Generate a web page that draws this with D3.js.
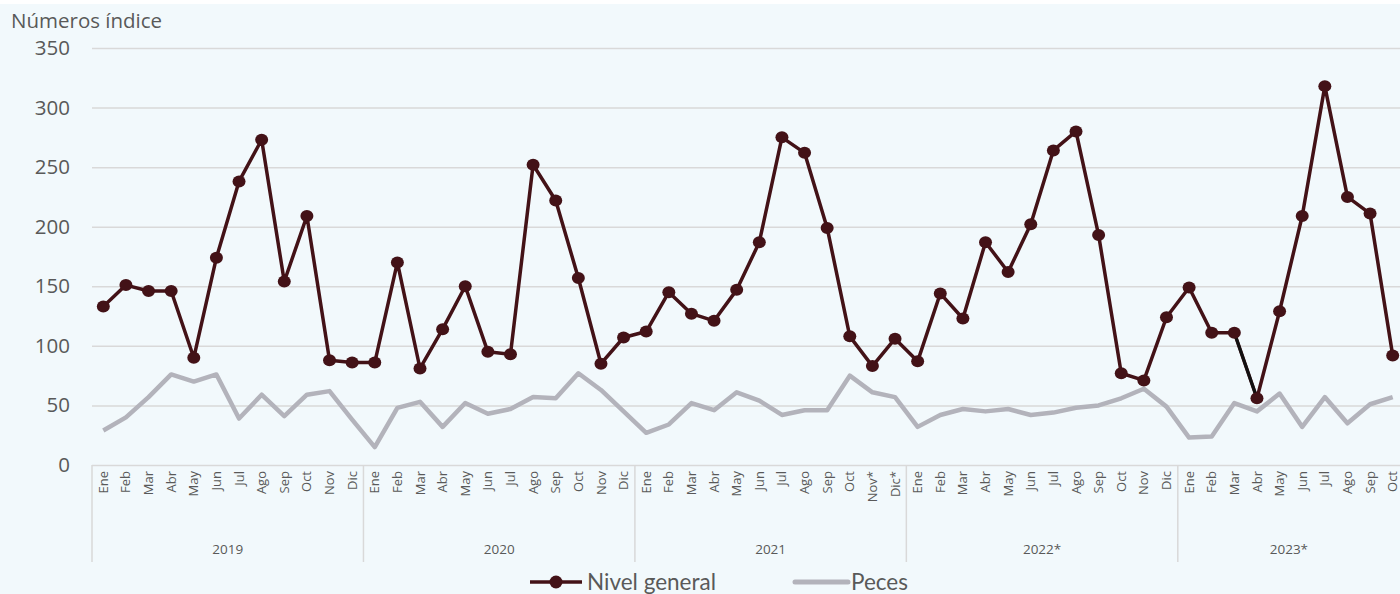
<!DOCTYPE html>
<html>
<head>
<meta charset="utf-8">
<script src="https://cdn.jsdelivr.net/npm/d3@7"></script>
<style>
  body { margin: 0; background: #ffffff; }
  svg { display: block; }
  .tick text { font-family: "Open Sans", sans-serif; }
</style>
</head>
<body>
<svg id="chart" width="1400" height="594"></svg>
<script>
// months shown under each year
const months = ["Ene", "Feb", "Mar", "Abr", "May", "Jun", "Jul", "Ago", "Sep", "Oct", "Nov", "Dic"];
const years = ["2019", "2020", "2021", "2022*", "2023*"];
const monthsPerYear = [12, 12, 12, 12, 10];
// month label overrides (2021 Nov/Dic marked as provisional)
const monthLabelOverrides = { "2021-10": "Nov*", "2021-11": "Dic*" };

const nivelGeneral = [
    133, 151, 146, 146, 90, 174, 238, 273, 154, 209, 88, 86,
    86, 170, 81, 114, 150, 95, 93, 252, 222, 157, 85, 107,
    112, 145, 127, 121, 147, 187, 275, 262, 199, 108, 83, 106,
    87, 144, 123, 187, 162, 202, 264, 280, 193, 77, 71, 124,
    149, 111, 111, 56, 129, 209, 318, 225, 211, 92
];
const peces = [
    29, 40, 57, 76, 70, 76, 39, 59, 41, 59, 62, 38,
    15, 48, 53, 32, 52, 43, 47, 57, 56, 77, 63, 45,
    27, 34, 52, 46, 61, 54, 42, 46, 46, 75, 61, 57,
    32, 42, 47, 45, 47, 42, 44, 48, 50, 56, 64, 49,
    23, 24, 52, 45, 60, 32, 57, 35, 51, 57
];
const yTicks = [0, 50, 100, 150, 200, 250, 300, 350];

// build category keys
const cats = [];
years.forEach((yr, yi) => {
    for (let m = 0; m < monthsPerYear[yi]; m++) {
        const key = yr.replace("*", "") + "-" + m;
        cats.push({ key, year: yr, yi, label: monthLabelOverrides[key] || months[m] });
    }
});

const svg = d3.select("#chart");
const W = 1400, H = 594;

svg.append("rect").attr("x", 0).attr("y", 4).attr("width", W).attr("height", H - 4).attr("fill", "#f2f9fc");

const plotLeft = 92, plotRight = 1404, plotTop = 48, plotBottom = 465;
const x = d3.scaleBand().domain(cats.map(c => c.key)).range([plotLeft, plotRight]);
const y = d3.scaleLinear().domain([0, 350]).range([plotBottom, plotTop]);

const textCol = "#595959";
const gridCol = "#d9d9d9";

// grid lines + y labels
const yAxis = svg.append("g")
    .attr("transform", `translate(${plotLeft},0)`)
    .call(d3.axisLeft(y).tickValues(yTicks).tickSize(-(W - plotLeft)).tickPadding(22));
yAxis.select(".domain").remove();
yAxis.selectAll(".tick line").attr("stroke", gridCol).attr("stroke-width", 1.5);
yAxis.selectAll(".tick text").attr("fill", textCol).style("font-size", "20.5px");

svg.append("text")
    .attr("x", 11).attr("y", 28)
    .attr("fill", textCol)
    .style("font-family", "Open Sans, sans-serif")
    .style("font-size", "20.5px")
    .text("Números índice");

// month labels
const xAxis = svg.append("g")
    .attr("transform", `translate(0,${plotBottom})`)
    .call(d3.axisBottom(x).tickSize(0).tickFormat(k => cats.find(c => c.key === k).label));
xAxis.select(".domain").remove();
xAxis.selectAll(".tick text")
    .attr("transform", "rotate(-90)")
    .attr("text-anchor", "end")
    .attr("x", -6).attr("y", 0).attr("dy", "0.35em")
    .attr("fill", textCol)
    .style("font-size", "13px");

// year separators and labels
let start = 0;
const sepX = [];
years.forEach((yr, yi) => {
    const first = cats[start].key;
    const last = cats[start + monthsPerYear[yi] - 1].key;
    const x0 = x(first), x1 = x(last) + x.bandwidth();
    sepX.push(x0);
    svg.append("text")
        .attr("x", (x0 + Math.min(x1, W)) / 2)
        .attr("y", 554)
        .attr("text-anchor", "middle")
        .attr("fill", textCol)
        .style("font-family", "Open Sans, sans-serif")
        .style("font-size", "13.5px")
        .text(yr);
    start += monthsPerYear[yi];
});
svg.selectAll(".sep").data(sepX).enter().append("line")
    .attr("class", "sep")
    .attr("x1", d => d).attr("x2", d => d)
    .attr("y1", plotBottom).attr("y2", 562)
    .attr("stroke", gridCol).attr("stroke-width", 1.5);

const cx = d => x(d.key) + x.bandwidth() / 2;

// Peces line
const pecesData = cats.map((c, i) => ({ key: c.key, v: peces[i] }));
svg.append("path")
    .datum(pecesData)
    .attr("fill", "none")
    .attr("stroke", "#b3b3bb")
    .attr("stroke-width", 4.5)
    .attr("stroke-linejoin", "round")
    .attr("d", d3.line().x(cx).y(d => y(d.v)));

// Nivel general line
const nivelData = cats.map((c, i) => ({ key: c.key, v: nivelGeneral[i] }));
const maroon = "#431217";
svg.append("path")
    .datum(nivelData)
    .attr("fill", "none")
    .attr("stroke", maroon)
    .attr("stroke-width", 3.5)
    .attr("stroke-linejoin", "round")
    .attr("d", d3.line().x(cx).y(d => y(d.v)));

// Mar -> Abr 2023 segment drawn in black in the original
const blackSeg = nivelData.filter(d => d.key === "2023-2" || d.key === "2023-3");
svg.append("path")
    .datum(blackSeg)
    .attr("fill", "none")
    .attr("stroke", "#111")
    .attr("stroke-width", 3)
    .attr("d", d3.line().x(cx).y(d => y(d.v)));

svg.selectAll(".dot").data(nivelData).enter().append("ellipse")
    .attr("class", "dot")
    .attr("cx", cx).attr("cy", d => y(d.v))
    .attr("rx", 6.5).attr("ry", 6)
    .attr("fill", maroon);

// legend
const lg = svg.append("g");
lg.append("line").attr("x1", 530).attr("x2", 582).attr("y1", 582).attr("y2", 582)
    .attr("stroke", maroon).attr("stroke-width", 3.5);
lg.append("circle").attr("cx", 556).attr("cy", 582).attr("r", 6.5).attr("fill", maroon);
lg.append("text").attr("x", 587).attr("y", 590).attr("fill", textCol)
    .style("font-family", "Lato, sans-serif").style("font-size", "22.5px").text("Nivel general");
lg.append("line").attr("x1", 795).attr("x2", 848).attr("y1", 582).attr("y2", 582)
    .attr("stroke", "#b3b3bb").attr("stroke-width", 5).attr("stroke-linecap", "round");
lg.append("text").attr("x", 851).attr("y", 590).attr("fill", textCol)
    .style("font-family", "Lato, sans-serif").style("font-size", "22.5px").text("Peces");
</script>
</body>
</html>
